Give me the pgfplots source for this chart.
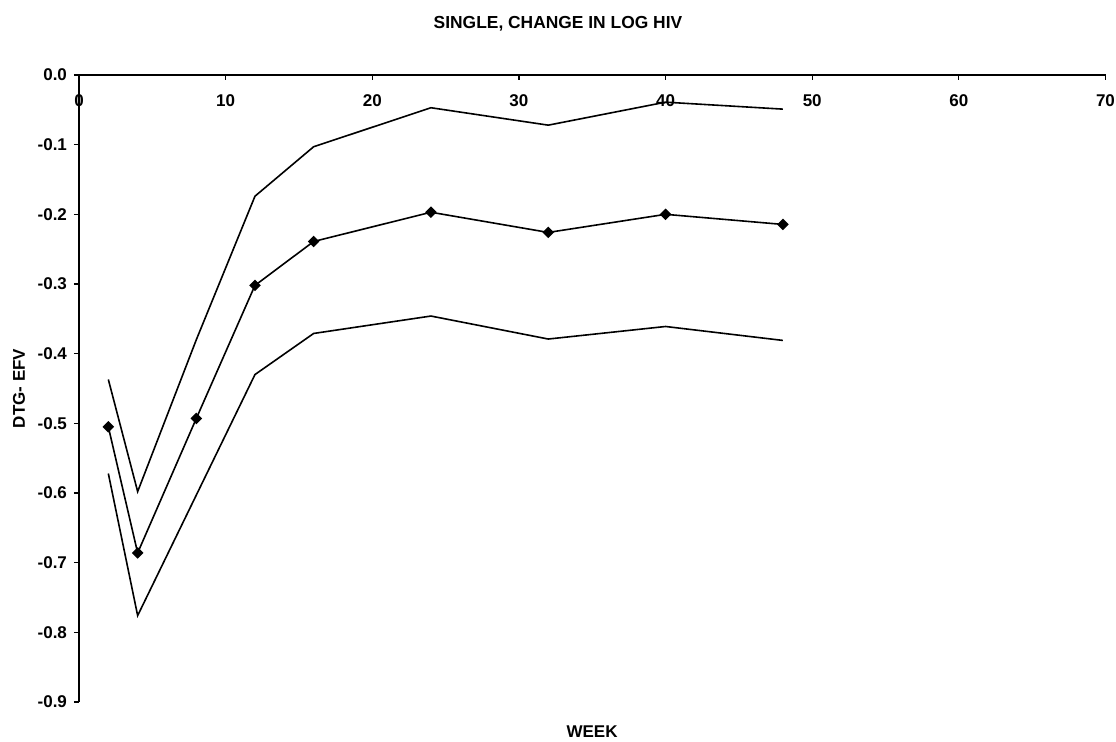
\documentclass[border=0pt]{standalone}
\usepackage{fontspec}
\setmainfont{Liberation Sans}
\usepackage{pgfplots}
\pgfplotsset{compat=1.18}
\begin{document}
\begin{tikzpicture}
\begin{axis}[
  scale only axis,
  width=513.25pt, height=313.5pt,
  xmin=0, xmax=70, ymin=-0.9, ymax=0,
  axis x line=top, axis y line=left,
  axis line style={line width=0.6pt,-},
  xtick={0,10,...,70},
  ytick={-0.9,-0.8,...,0.01},
  x tick style={line width=0.6pt, black},
  y tick style={line width=0.6pt, black},
  xtick align=inside, ytick align=outside,
  major tick length=2.5pt,
  /pgf/number format/assume math mode=true,
  yticklabel={\pgfmathprintnumber[fixed,fixed zerofill,precision=1]{\tick}},
  xticklabel style={font=\fontsize{8.5}{10}\selectfont\bfseries, anchor=center, yshift=-13pt},
  yticklabel style={font=\fontsize{8.5}{10}\selectfont\bfseries},
  title={SINGLE, CHANGE IN LOG HIV},
  title style={font=\fontsize{8.7}{10}\selectfont\bfseries, at={(axis description cs:0.4666,1.0622)}, anchor=center},
  xlabel={WEEK},
  xlabel style={font=\fontsize{8.5}{10}\selectfont\bfseries, at={(axis description cs:0.4998,-0.0474)}, anchor=center},
  ylabel={DTG- EFV},
  ylabel style={font=\fontsize{8.5}{10}\selectfont\bfseries, at={(axis description cs:-0.0585,0.5)}, anchor=center, rotate=0},
  clip=false,
]
\addplot[black, line width=0.8pt] coordinates {
 (2,-0.437) (4,-0.598) (8,-0.380) (12,-0.174) (16,-0.103) (24,-0.047) (32,-0.072) (40,-0.039) (48,-0.049)};
\addplot[black, line width=0.8pt, mark=square*, mark size=1.65pt, mark options={rotate=45}] coordinates {
 (2,-0.505) (4,-0.686) (8,-0.493) (12,-0.302) (16,-0.239) (24,-0.197) (32,-0.226) (40,-0.200) (48,-0.2145)};
\addplot[black, line width=0.8pt] coordinates {
 (2,-0.572) (4,-0.776) (8,-0.603) (12,-0.430) (16,-0.371) (24,-0.346) (32,-0.379) (40,-0.361) (48,-0.381)};
\end{axis}
\pgfresetboundingbox
\path ([xshift=-39.5pt,yshift=-20pt]current axis.south west) rectangle ([xshift=5.25pt,yshift=37.5pt]current axis.north east);
\end{tikzpicture}
\end{document}
